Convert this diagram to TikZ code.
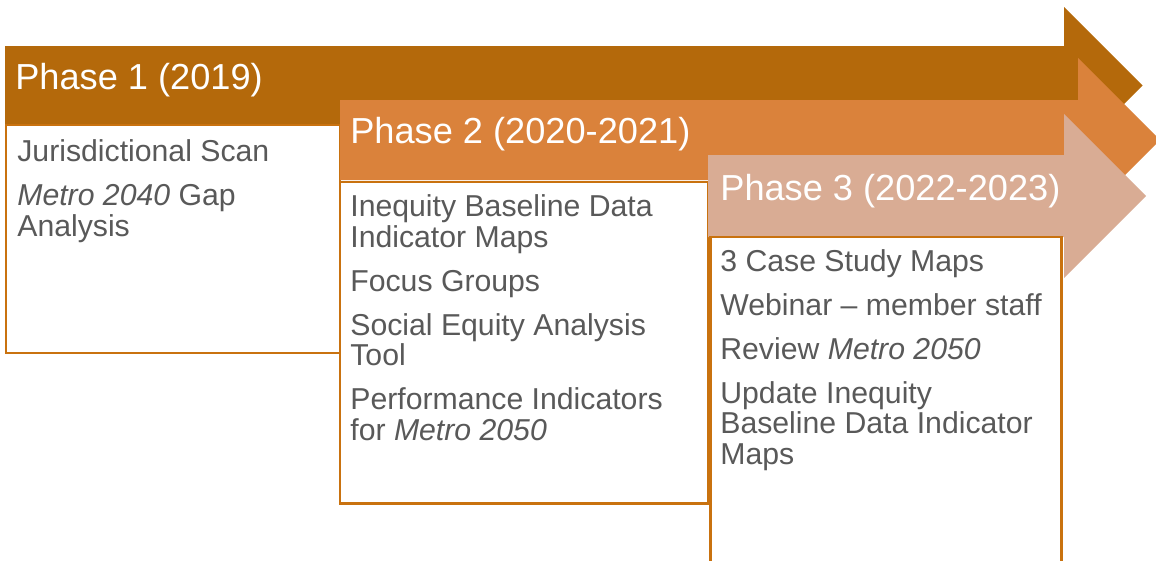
\documentclass[tikz,border=0pt]{standalone}
\usepackage{fontspec}
\setmainfont{Liberation Sans}
\usetikzlibrary{positioning}
\definecolor{phaseone}{HTML}{B4690B}
\definecolor{phasetwo}{HTML}{DA823B}
\definecolor{phasethree}{HTML}{D9AC94}
\definecolor{boxline}{HTML}{C9720F}
\definecolor{bodygray}{HTML}{595959}
\tikzset{header/.style={text=white,font=\fontsize{20.6}{22}\selectfont,anchor=base west,inner sep=0}}
\tikzset{items/.style={text=bodygray,font=\fontsize{17.2}{17.6}\selectfont,anchor=north west,inner sep=0,align=left}}
\tikzset{phasebox/.style={draw=boxline,line width=1.7pt,fill=white}}
% arrow: colour, left, top, bottom, head base, head top
\newcommand{\phasearrow}[6]{%
  \fill[#1] (#2,#3) -- (#5,#3) -- (#5,#6)
    -- ({#5+(#4+#3)/2-#6},{(#3+#4)/2}) -- (#5,{#3+#4-#6})
    -- (#5,#4) -- (#2,#4) -- cycle;}

\begin{document}
\begin{tikzpicture}[x=0.02cm,y=-0.02cm]
		\useasboundingbox (0,0) rectangle (1156,561);
		% phase 1
		\phasearrow{phaseone}{5}{46}{125}{1064}{7}
		\draw[phasebox] (6,125) rectangle (340,353);
		\node[header] (head1) at (15,89) {Phase 1 (2019)};
		\node[items] (list1) at (17,139) {Jurisdictional Scan\\[7.4pt]\textit{Metro 2040} Gap\\Analysis};
		% phase 2
		\phasearrow{phasetwo}{340}{100}{180}{1078}{58}
		\draw[phasebox] (340,182) rectangle (708,503);
		\node[header] (head2) at (350,143) {Phase 2 (2020-2021)};
		\node[items] (list2) at (350,194) {Inequity Baseline Data\\Indicator Maps\\[7.4pt]Focus Groups\\[7.4pt]Social Equity Analysis\\Tool\\[7.4pt]Performance Indicators\\for \textit{Metro 2050}};
		% phase 3
		\phasearrow{phasethree}{708}{155}{237}{1064}{114}
		\draw[phasebox] (710,237) rectangle (1061,580);
		\node[header] (head3) at (720,200) {Phase 3 (2022-2023)};
		\node[items] (list3) at (720,249) {3 Case Study Maps\\[7.4pt]Webinar – member staff\\[7.4pt]Review \textit{Metro 2050}\\[7.4pt]Update Inequity\\Baseline Data Indicator\\Maps};
	\end{tikzpicture}
\end{document}
